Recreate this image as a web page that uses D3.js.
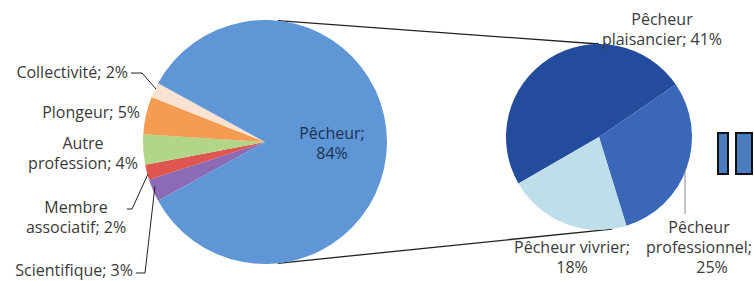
<!DOCTYPE html>
<html>
<head>
<meta charset="utf-8">
<script src="https://cdn.jsdelivr.net/npm/d3@7"></script>
<style>
  body { margin: 0; background: #fff; }
  svg text { font-family: "Open Sans", Lato, sans-serif; font-size: 16px; }
</style>
</head>
<body>
<div id="chart"></div>
<script>
// Data
var mainLabels = ["Scientifique", "Membre associatif", "Autre profession", "Plongeur", "Collectivité", "Pêcheur"];
var mainValues = [3, 2, 4, 5, 2, 84];
var mainColors = ["#8b6bb5", "#df5650", "#b2d688", "#f39c52", "#f9e2d2", "#5f96d5"];

var subLabels = ["Pêcheur plaisancier", "Pêcheur professionnel", "Pêcheur vivrier"];
var subValues = [41, 25, 18];
var subColors = ["#244c9d", "#3b67b8", "#bedfe9"];

var svgWidth = 754, svgHeight = 281;

// Pie geometry
var big = { cx: 265, cy: 142, r: 122 };
var small = { cx: 599, cy: 137, r: 93 };

// Label layout: position, words per line, optional x shift per line
var mainLabelPos = [
    { x: 133, y: 270, anchor: "end", words: [2] },
    { x: 76, y: 207, anchor: "middle", words: [1, 2] },
    { x: 83, y: 143, anchor: "middle", words: [1, 2] },
    { x: 140, y: 112, anchor: "end", words: [2] },
    { x: 128, y: 72, anchor: "end", words: [2] },
    { x: 332, y: 133, anchor: "middle", words: [1, 1], fill: "#1c3152" }
];
var subLabelPos = [
    { x: 662, y: 19, anchor: "middle", words: [1, 2] },
    { x: 699, y: 227, anchor: "middle", words: [1, 1, 1], shift: [0, 0, 13] },
    { x: 572, y: 247, anchor: "middle", words: [2, 1] }
];

// Leader lines for the small slices
var leaders = [
    [[136, 273], [145, 273], [155, 186]],
    [[127, 209], [132, 209], [148, 174]],
    [[131, 73], [142, 73], [156, 89]],
    [[685, 172], [685, 214]]
];

var svg = d3.select("#chart")
    .append("svg")
    .attr("width", svgWidth)
    .attr("height", svgHeight);

var arcBig = d3.arc().innerRadius(0).outerRadius(big.r);
var arcSmall = d3.arc().innerRadius(0).outerRadius(small.r);

var pieBig = d3.pie().sort(null)
    .startAngle(1.34 * Math.PI)
    .endAngle(3.34 * Math.PI);
var pieSmall = d3.pie().sort(null)
    .startAngle(-2 * Math.PI / 3)
    .endAngle(4 * Math.PI / 3);

// Connector lines between the two pies
function onCircle(c, deg) {
    var a = deg * Math.PI / 180;
    return [c.cx + c.r * Math.sin(a), c.cy - c.r * Math.cos(a)];
}
svg.append("g")
    .selectAll("line")
    .data([[onCircle(big, 6), onCircle(small, 0)], [onCircle(big, 174), onCircle(small, 172)]])
    .enter()
    .append("line")
    .attr("x1", d => d[0][0]).attr("y1", d => d[0][1])
    .attr("x2", d => d[1][0]).attr("y2", d => d[1][1])
    .attr("stroke", "#222")
    .attr("stroke-width", 1.3);

// Main pie
svg.append("g")
    .attr("transform", `translate(${big.cx} ${big.cy})`)
    .selectAll("path")
    .data(pieBig(mainValues))
    .enter()
    .append("path")
    .attr("d", arcBig)
    .attr("fill", (d, i) => mainColors[i]);

// Secondary pie
svg.append("g")
    .attr("transform", `translate(${small.cx} ${small.cy})`)
    .selectAll("path")
    .data(pieSmall(subValues))
    .enter()
    .append("path")
    .attr("d", arcSmall)
    .attr("fill", (d, i) => subColors[i]);

// Leader lines
svg.append("g")
    .selectAll("path")
    .data(leaders)
    .enter()
    .append("path")
    .attr("d", d3.line())
    .attr("fill", "none")
    .attr("stroke", (d, i) => i == 3 ? "#888" : "#222")
    .attr("stroke-width", 1);

// Split "label; value%" into lines
function splitLines(text, words) {
    var parts = text.split(" ");
    var out = [], k = 0;
    words.forEach(function (n, j) {
        var take = (j == words.length - 1) ? parts.length - k : n;
        out.push(parts.slice(k, k + take).join(" "));
        k += take;
    });
    return out;
}

function drawLabels(labels, values, layout) {
    labels.forEach(function (lab, i) {
        var p = layout[i];
        var lines = splitLines(`${lab}; ${values[i]}%`, p.words);
        var t = svg.append("text")
            .attr("text-anchor", p.anchor)
            .attr("fill", p.fill || "#3a3a3a");
        lines.forEach(function (ln, j) {
            t.append("tspan")
                .attr("x", p.x + (p.shift ? p.shift[j] : 0))
                .attr("y", p.y + j * 20)
                .attr("dy", "0.35em")
                .text(ln);
        });
    });
}
drawLabels(mainLabels, mainValues, mainLabelPos);
drawLabels(subLabels, subValues, subLabelPos);

// Pause-like icon on the right edge
svg.append("g")
    .selectAll("rect")
    .data([[718, 10], [736, 16]])
    .enter()
    .append("rect")
    .attr("x", d => d[0])
    .attr("y", 133)
    .attr("width", d => d[1])
    .attr("height", 41)
    .attr("fill", "#4a7dbd")
    .attr("stroke", "#111")
    .attr("stroke-width", 2);
</script>
</body>
</html>
